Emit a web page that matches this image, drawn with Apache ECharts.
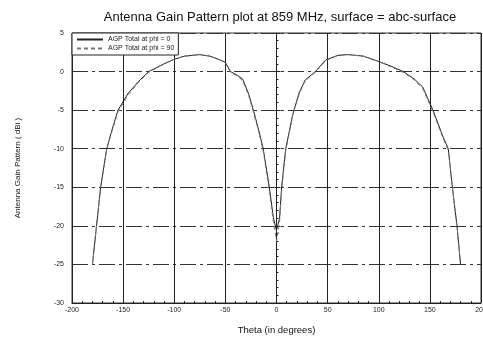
<!DOCTYPE html>
<html><head><meta charset="utf-8">
<script src="https://cdn.jsdelivr.net/npm/echarts@6/dist/echarts.min.js"></script>
<style>html,body{margin:0;padding:0;background:#fff}#c{width:483px;height:340px}</style>
</head><body><div id="c"></div>
<script>
const titleText = 'Antenna Gain Pattern plot at 859 MHz, surface = abc-surface';
const xName = 'Theta (in degrees)';
const yName = 'Antenna Gain Pattern ( dBi )';
const seriesNames = ['AGP Total at phi = 0', 'AGP Total at phi = 90'];
const xTicks = [-200,-150,-100,-50,0,50,100,150,200];
const yTicks = [5,0,-5,-10,-15,-20,-25,-30];

const thetaA = [-180,-176,-172,-166,-161,-155,-145,-135,-125,-110,-100,-90,-75,-65,-55,-50,-45,-38,-33,-27,-22,-17,-13,-7,-3,0,3,5,9,16,22,28,38,48,60,70,85,100,112,124,135,143,153,163,168,172,176.5,180];
const gainA  = [-25,-20,-15,-10,-7.6,-5,-2.8,-1.3,0,1.0,1.6,2.0,2.2,2.0,1.5,1.2,0,-0.5,-1,-3,-5.3,-7.8,-10,-15,-19,-20.6,-19,-15,-10,-5.5,-2.8,-1.1,0,1.5,2.1,2.2,2.0,1.3,0.7,0,-1,-2,-5,-8.5,-10,-15,-20,-25];
const thetaB = [-180,-176,-172,-166,-161,-155,-145,-135,-125,-110,-100,-90,-75,-65,-55,-50,-45,-38,-33,-27,-22,-17,-13,-7,-3,0,3,5,9,16,22,28,38,48,60,70,85,100,112,124,135,143,153,163,168,172,176.5,180];
const gainB  = [-25,-20,-15,-10,-7.8,-5.2,-3.0,-1.4,-0.1,1.0,1.6,2.0,2.2,2.0,1.5,1.1,-0.1,-0.6,-1.2,-3.2,-5.5,-8,-10.3,-15.5,-19.5,-22,-19.5,-15.5,-10.3,-5.6,-3.0,-1.2,-0.1,1.4,2.1,2.2,2.0,1.3,0.6,-0.1,-1.1,-2.2,-5.2,-8.7,-10.2,-15,-20,-25];

const font = 'Liberation Sans';
const chart = echarts.init(document.getElementById('c'), null, {renderer:'canvas'});
chart.setOption({
  animation:false,
  backgroundColor:'#fff',
  title:{text:titleText,left:275,textAlign:'center',top:6,
    textStyle:{fontFamily:font,fontSize:13,fontWeight:'normal',color:'#111'}},
  legend:{
    orient:'vertical',left:72,top:33,itemGap:2,itemWidth:26,itemHeight:6,
    padding:[3,4,3,4],borderColor:'#222',borderWidth:1,backgroundColor:'#fff',
    itemStyle:{color:'rgba(0,0,0,0)',borderWidth:0},
    textStyle:{fontFamily:font,fontSize:7,color:'#222'},
    data:seriesNames
  },
  grid:{left:72,right:2,top:33,bottom:37,show:true,borderColor:'#333',borderWidth:1,
    containLabel:false,outerBoundsMode:'none'},
  xAxis:{
    type:'value',min:-200,max:200,interval:50,
    name:xName,nameLocation:'middle',nameGap:22,
    nameTextStyle:{fontFamily:font,fontSize:9.5,color:'#111'},
    axisLine:{show:true,onZero:false,lineStyle:{color:'#222'}},
    axisTick:{show:true,inside:true,length:4,lineStyle:{color:'#222'}},
    minorTick:{show:true,splitNumber:5,length:2,lineStyle:{color:'#222'}},
    axisLabel:{fontFamily:font,fontSize:7,color:'#222',margin:4},
    splitLine:{show:true,lineStyle:{color:'#222',width:1}}
  },
  yAxis:{
    type:'value',min:-30,max:5,interval:5,
    name:yName,nameLocation:'middle',nameGap:50,
    nameTextStyle:{fontFamily:font,fontSize:8,color:'#111'},
    axisLine:{show:true,lineStyle:{color:'#222'}},
    axisTick:{show:true,inside:true,length:4,lineStyle:{color:'#222'}},
    minorTick:{show:true,splitNumber:5,length:2,lineStyle:{color:'#222'}},
    axisLabel:{fontFamily:font,fontSize:7,color:'#222',margin:8},
    splitLine:{show:true,lineStyle:{color:'#333',width:1,type:[16,4,3,4]}}
  },
  series:[
    {name:seriesNames[0],type:'line',symbol:'none',
     data:thetaA.map((t,i)=>[t,gainA[i]]),
     lineStyle:{color:'#222',width:1},itemStyle:{color:'#222'}},
    {name:seriesNames[1],type:'line',symbol:'none',
     data:thetaB.map((t,i)=>[t,gainB[i]]),
     lineStyle:{color:'#777',width:1,type:[4,3]},itemStyle:{color:'#777'}}
  ]
});
</script></body></html>
